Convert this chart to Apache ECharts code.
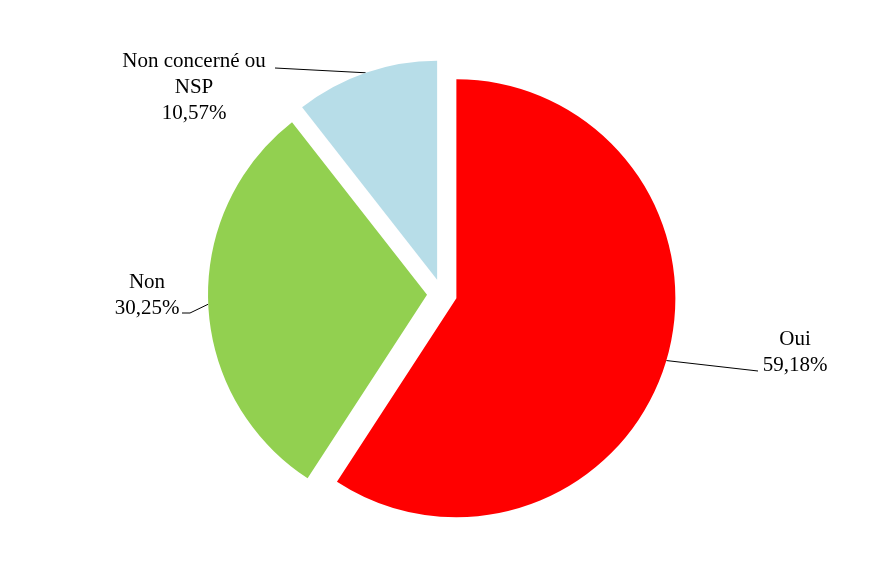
<!DOCTYPE html>
<html>
<head>
<meta charset="utf-8">
<script src="https://cdn.jsdelivr.net/npm/echarts@6/dist/echarts.min.js"></script>
<style>
html,body{margin:0;padding:0;background:#fff;}
#chart{width:884px;height:588px;}
</style>
</head>
<body>
<div id="chart"></div>
<script>
// Data
var categories = ['Oui', 'Non', 'Non concerné ou\nNSP'];
var values = [59.18, 30.25, 10.57];
var colors = ['#FF0000', '#92D050', '#B7DDE8'];

// Layout (positions / styles)
var center = [442, 294];
var radius = 219;
var explode = 15;
var labelPos = [
  {x: 795, y: 352, line: [[758, 371]]},
  {x: 147, y: 295, line: [[190, 313], [182, 313]]},
  {x: 194, y: 87, line: [[275, 68]]}
];

var total = values.reduce(function (a, b) { return a + b; }, 0);
var cum = 0;
var series = values.map(function (v, k) {
  var start = cum;
  cum += v;
  var mid = (start + v / 2) / total * 2 * Math.PI;
  var c = [center[0] + explode * Math.sin(mid), center[1] - explode * Math.cos(mid)];
  return {
    type: 'pie',
    center: c,
    radius: radius,
    startAngle: 90,
    clockwise: true,
    avoidLabelOverlap: false,
    silent: true,
    animation: false,
    emphasis: {disabled: true},
    label: {show: false},
    labelLine: {show: false},
    data: values.map(function (val, i) {
      return {
        name: categories[i],
        value: val,
        itemStyle: {color: i === k ? colors[i] : 'rgba(0,0,0,0)'},
        label: {
          show: i === k,
          position: 'outside',
          color: '#000',
          fontFamily: 'Liberation Serif',
          fontSize: 21,
          lineHeight: 26,
          align: 'center',
          formatter: function (p) {
            return p.name + '\n' + p.value.toFixed(2).replace('.', ',') + '%';
          }
        },
        labelLine: {show: i === k, lineStyle: {color: '#000', width: 1}}
      };
    }),
    labelLayout: function (params) {
      if (params.dataIndex !== k) return {};
      var lp = labelPos[k];
      var pts = [params.labelLinePoints[0]].concat(lp.line);
      return {
        x: lp.x,
        y: lp.y,
        align: 'center',
        verticalAlign: 'middle',
        labelLinePoints: pts
      };
    }
  };
});

var chart = echarts.init(document.getElementById('chart'));
chart.setOption({
  backgroundColor: '#fff',
  series: series
});
</script>
</body>
</html>
